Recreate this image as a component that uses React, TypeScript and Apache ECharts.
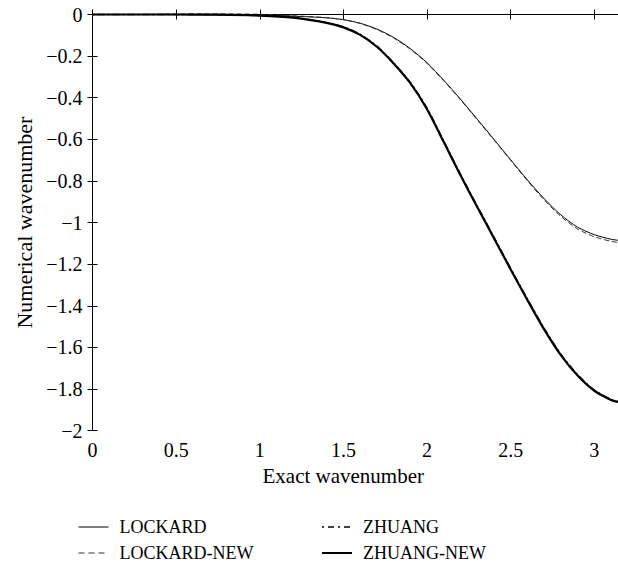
import React, { useEffect, useRef } from "react";
import * as echarts from "echarts";

const xValues = [0, 0.25, 0.5, 0.75, 1.0, 1.2, 1.4, 1.5, 1.6, 1.7, 1.8, 1.9, 2.0, 2.1, 2.2, 2.3, 2.4, 2.5, 2.6, 2.7, 2.8, 2.9, 3.0, 3.1, 3.1416];

const lockard = [0, 0, 0, -0.001, -0.003, -0.008, -0.016, -0.025, -0.042, -0.07, -0.11, -0.164, -0.232, -0.316, -0.407, -0.503, -0.6, -0.698, -0.795, -0.885, -0.963, -1.022, -1.058, -1.08, -1.085];
const lockardNew = [0, 0, 0.002, 0.003, 0.001, -0.006, -0.015, -0.025, -0.043, -0.072, -0.113, -0.167, -0.235, -0.319, -0.41, -0.506, -0.603, -0.701, -0.799, -0.891, -0.97, -1.031, -1.068, -1.09, -1.095];
const zhuang = [0, 0, 0, -0.001, -0.005, -0.014, -0.039, -0.06, -0.095, -0.152, -0.232, -0.327, -0.45, -0.608, -0.768, -0.92, -1.07, -1.22, -1.367, -1.508, -1.632, -1.731, -1.805, -1.85, -1.86];
const zhuangNew = [0, 0, 0, -0.001, -0.005, -0.015, -0.04, -0.062, -0.098, -0.155, -0.235, -0.33, -0.455, -0.613, -0.773, -0.925, -1.075, -1.225, -1.372, -1.513, -1.637, -1.735, -1.808, -1.852, -1.862];

const seriesNames = ["LOCKARD", "LOCKARD-NEW", "ZHUANG", "ZHUANG-NEW"];
const xTickLabels = ["0", "0.5", "1", "1.5", "2", "2.5", "3"];

const FONT = '"Liberation Serif", "DejaVu Serif", "Times New Roman", serif';

const pairs = (ys: number[]) => xValues.map((x, i) => [x, ys[i]]);

const styles = [
  { color: "#000", width: 1, type: "solid" as any },
  { color: "#333", width: 1, type: [5, 3] as any },
  { color: "#000", width: 1.5, type: [2, 3, 7, 3] as any },
  { color: "#000", width: 2.2, type: "solid" as any },
];
const legendStyles = [
  { color: "#000", width: 1, type: "solid" as any },
  { color: "#333", width: 1, type: [6, 4] as any },
  { color: "#000", width: 1.5, type: [2, 4, 6, 4] as any },
  { color: "#000", width: 2, type: "solid" as any },
];

export default function App() {
  const ref = useRef<HTMLDivElement>(null);
  useEffect(() => {
    if (!ref.current) return;
    const chart = echarts.init(ref.current, undefined, { renderer: "svg" });
    const axisCommon = {
      axisLine: { show: true, lineStyle: { color: "#000", width: 1 } },
      axisTick: { show: true, inside: true, length: 5, lineStyle: { color: "#000", width: 1 } },
      splitLine: { show: false },
    };
    const xFmt = (v: number) => {
      const k = v / 0.5;
      if (Math.abs(k - Math.round(k)) > 1e-6) return "";
      return xTickLabels[Math.round(k)] ?? "";
    };
    const yFmt = (v: number) => {
      const r = Math.round(v * 10) / 10;
      if (r === 0) return "0";
      return "\u2212" + String(Math.abs(r));
    };
    const legendItem = (i: number) => ({
      name: seriesNames[i],
      lineStyle: legendStyles[i],
      itemStyle: { opacity: 0, borderWidth: 0 },
    });
    const legendCommon = {
      orient: "vertical",
      top: 513,
      itemWidth: 30,
      itemHeight: 14,
      itemGap: 8,
      selectedMode: false,
      itemStyle: { opacity: 0, borderWidth: 0 },
    };
    const lineCommon = {
      type: "line",
      smooth: 0.25,
      symbol: "none",
      clip: false,
    };
    chart.setOption({
      animation: false,
      backgroundColor: "#fff",
      textStyle: { fontFamily: FONT },
      grid: { left: 92.5, top: 14.5, right: -3.5, bottom: 136.3 },
      xAxis: [
        {
          type: "value",
          min: 0,
          max: Math.PI,
          interval: 0.5,
          position: "bottom",
          ...axisCommon,
          axisLabel: { formatter: xFmt, fontFamily: FONT, fontSize: 20, color: "#000", margin: 9, showMaxLabel: false },
          name: "Exact wavenumber",
          nameLocation: "middle",
          nameGap: 35,
          nameTextStyle: { fontFamily: FONT, fontSize: 21, color: "#000", padding: [0, 24, 0, 0] },
        },
        {
          type: "value",
          min: 0,
          max: Math.PI,
          interval: 0.5,
          position: "top",
          ...axisCommon,
          axisLabel: { show: false },
        },
      ],
      yAxis: [
        {
          type: "value",
          min: -2,
          max: 0,
          interval: 0.2,
          position: "left",
          ...axisCommon,
          axisLabel: { formatter: yFmt, fontFamily: FONT, fontSize: 20, color: "#000", margin: 10 },
          name: "Numerical wavenumber",
          nameLocation: "middle",
          nameGap: 56,
          nameTextStyle: { fontFamily: FONT, fontSize: 22, color: "#000" },
        },
        {
          type: "value",
          min: -2,
          max: 0,
          interval: 0.2,
          position: "right",
          ...axisCommon,
          axisLabel: { show: false },
        },
      ],
      legend: [
        {
          ...legendCommon,
          data: [legendItem(0), legendItem(1)],
          left: 73,
          textStyle: { fontFamily: FONT, fontSize: 18, color: "#000", padding: [0, 0, 0, 6] },
        },
        {
          ...legendCommon,
          data: [legendItem(2), legendItem(3)],
          left: 316,
          textStyle: { fontFamily: FONT, fontSize: 18, color: "#000", padding: [0, 0, 0, 6] },
        },
      ],
      series: seriesNames.map((name, i) => ({
        ...lineCommon,
        name,
        data: pairs([lockard, lockardNew, zhuang, zhuangNew][i]),
        lineStyle: styles[i],
        itemStyle: { color: styles[i].color },
      })),
    });
    return () => chart.dispose();
  }, []);
  return <div ref={ref} style={{ position: "fixed", left: 0, top: 0, width: 618, height: 567 }} />;
}
